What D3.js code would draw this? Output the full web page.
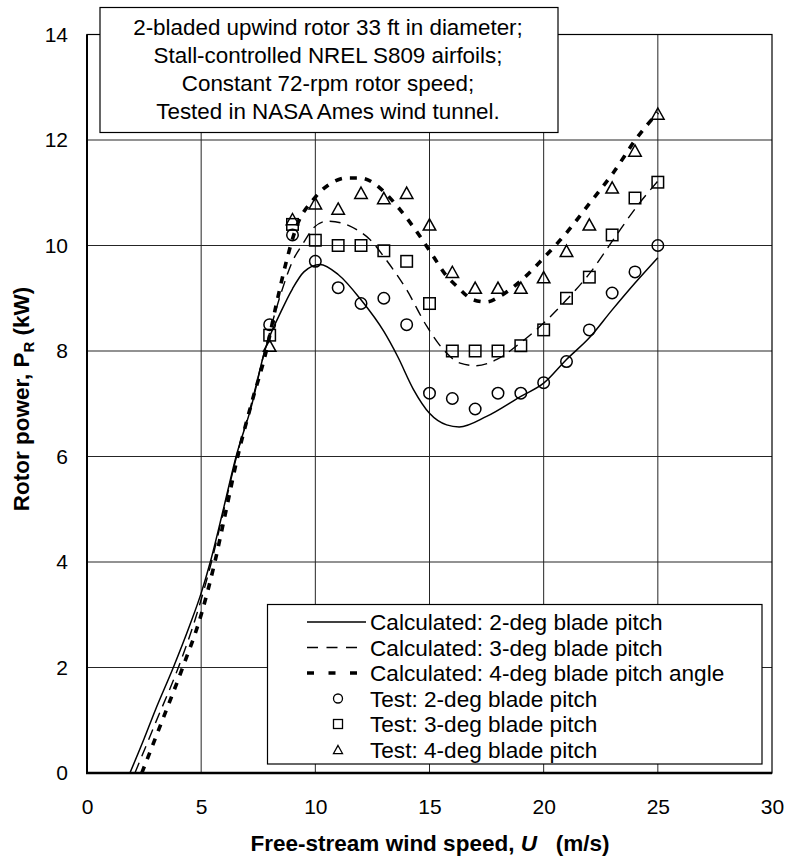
<!DOCTYPE html>
<html>
<head>
<meta charset="utf-8">
<script src="https://cdn.jsdelivr.net/npm/d3@7/dist/d3.min.js"></script>
<style>
  html, body { margin: 0; padding: 0; background: #fff; }
  svg { display: block; font-family: "Liberation Sans", Arial, sans-serif; }
</style>
</head>
<body>
<svg id="chart" width="785" height="857"></svg>
<script>
// ---------- data ----------
const xTicks = [0, 5, 10, 15, 20, 25, 30];
const yTicks = [0, 2, 4, 6, 8, 10, 12, 14];

// Test data (wind speed, m/s)
const testX = [8, 9, 10, 11, 12, 13, 14, 15, 16, 17, 18, 19, 20, 21, 22, 23, 24, 25];
const test2 = [8.5, 10.2, 9.7, 9.2, 8.9, 9.0, 8.5, 7.2, 7.1, 6.9, 7.2, 7.2, 7.4, 7.8, 8.4, 9.1, 9.5, 10.0];
const test3 = [8.3, 10.4, 10.1, 10.0, 10.0, 9.9, 9.7, 8.9, 8.0, 8.0, 8.0, 8.1, 8.4, 9.0, 9.4, 10.2, 10.9, 11.2];
const test4 = [8.1, 10.5, 10.8, 10.7, 11.0, 10.9, 11.0, 10.4, 9.5, 9.2, 9.2, 9.2, 9.4, 9.9, 10.4, 11.1, 11.8, 12.5];

// Calculated curves
const calc2X = [1.88, 2.5, 3.0, 3.78, 4.5, 5.0, 5.4, 6.0, 6.53, 7.2, 7.8, 8.5, 9.0, 9.5, 10.2, 11.0, 12.0, 13.0, 13.6, 14.3, 15.0, 15.75, 16.3, 17.5, 19.0, 20.0, 21.0, 22.0, 23.0, 24.0, 25.0];
const calc2Y = [0, 0.65, 1.2, 2.0, 2.8, 3.41, 4.0, 5.05, 6.0, 6.95, 8.03, 8.75, 9.18, 9.5, 9.64, 9.45, 8.97, 8.37, 7.9, 7.27, 6.82, 6.6, 6.56, 6.76, 7.14, 7.39, 7.84, 8.25, 8.78, 9.29, 9.77];

const calc3X = [2.1, 3.0, 4.0, 4.8, 5.45, 6.0, 6.55, 7.2, 7.8, 8.5, 9.0, 9.48, 9.91, 10.5, 11.2, 11.81, 12.4, 13.1, 14.0, 14.88, 15.6, 16.34, 17.05, 17.95, 18.97, 20.0, 21.0, 22.03, 23.05, 24.08, 25.0];
const calc3Y = [0, 0.95, 2.0, 3.0, 4.0, 5.0, 6.0, 7.0, 8.03, 9.1, 9.7, 10.05, 10.33, 10.46, 10.42, 10.3, 10.11, 9.73, 9.16, 8.47, 8.03, 7.77, 7.72, 7.84, 8.15, 8.53, 8.97, 9.48, 10.11, 10.74, 11.22];

const calc4X = [2.4, 3.3, 4.19, 5.0, 5.6, 6.1, 6.6, 7.2, 7.85, 8.3, 8.75, 9.18, 9.91, 10.86, 11.38, 11.96, 12.5, 13.05, 13.71, 14.59, 15.17, 15.75, 16.19, 16.92, 17.5, 18.09, 18.97, 19.99, 21.0, 22.03, 23.05, 24.08, 25.0];
const calc4Y = [0, 1.0, 2.0, 3.0, 4.0, 5.0, 6.0, 7.0, 8.0, 8.9, 9.73, 10.36, 10.87, 11.22, 11.28, 11.28, 11.2, 11.0, 10.68, 10.17, 9.79, 9.42, 9.23, 8.97, 8.93, 9.04, 9.32, 9.76, 10.24, 10.81, 11.38, 12.04, 12.52];

const noteLines = [
  "2-bladed upwind rotor 33 ft in diameter;",
  "Stall-controlled NREL S809 airfoils;",
  "Constant 72-rpm rotor speed;",
  "Tested in NASA Ames wind tunnel."
];
const legendLabels = [
  "Calculated: 2-deg blade pitch",
  "Calculated: 3-deg blade pitch",
  "Calculated: 4-deg blade pitch angle",
  "Test: 2-deg blade pitch",
  "Test: 3-deg blade pitch",
  "Test: 4-deg blade pitch"
];

// ---------- layout ----------
const L = 87, R = 772, T = 34.5, B = 773;
const svg = d3.select("#chart");
const x = d3.scaleLinear().domain([0, 30]).range([L, R]);
const y = d3.scaleLinear().domain([0, 14]).range([B, T]);

// gridlines
const grid = svg.append("g").attr("stroke", "#000").attr("stroke-width", 1).attr("opacity", 0.85);
grid.selectAll("line.v").data(xTicks.slice(1, -1)).join("line")
  .attr("x1", d => x(d)).attr("x2", d => x(d)).attr("y1", T).attr("y2", B);
grid.selectAll("line.h").data(yTicks.slice(1, -1)).join("line")
  .attr("x1", L).attr("x2", R).attr("y1", d => y(d)).attr("y2", d => y(d));

// plot border
svg.append("rect").attr("x", L).attr("y", T).attr("width", R - L).attr("height", B - T)
  .attr("fill", "none").attr("stroke", "#000").attr("stroke-width", 1.2);
// heavier left / bottom axes
svg.append("line").attr("x1", L).attr("x2", L).attr("y1", T).attr("y2", B + 1)
  .attr("stroke", "#000").attr("stroke-width", 2);
svg.append("line").attr("x1", L - 1).attr("x2", R).attr("y1", B).attr("y2", B)
  .attr("stroke", "#000").attr("stroke-width", 2.4);

// axes (labels only)
const xAxis = svg.append("g").attr("transform", `translate(0,${B})`)
  .call(d3.axisBottom(x).tickValues(xTicks).tickSize(0).tickPadding(26).tickFormat(d3.format("d")));
const yAxis = svg.append("g").attr("transform", `translate(${L},0)`)
  .call(d3.axisLeft(y).tickValues(yTicks).tickSize(0).tickPadding(19).tickFormat(d3.format("d")));
[xAxis, yAxis].forEach(g => {
  g.select(".domain").remove();
  g.selectAll("text").attr("font-family", "Liberation Sans, Arial, sans-serif")
    .attr("font-size", 21).attr("fill", "#000");
});

// axis titles
const xt = svg.append("text").attr("x", 430).attr("y", 851).attr("text-anchor", "middle")
  .attr("font-size", 22.5).attr("font-weight", "bold");
xt.append("tspan").text("Free-stream wind speed, ");
xt.append("tspan").attr("font-style", "italic").text("U");
xt.append("tspan").attr("xml:space", "preserve").text("\u00a0\u00a0 (m/s)");

const yt = svg.append("text").attr("transform", "translate(29,399) rotate(-90)")
  .attr("text-anchor", "middle").attr("font-size", 22.5).attr("font-weight", "bold");
yt.append("tspan").text("Rotor power, P");
yt.append("tspan").attr("font-size", 15).attr("dy", 5).text("R");
yt.append("tspan").attr("dy", -5).text(" (kW)");

// curves
const line = d3.line().x(d => x(d[0])).y(d => y(d[1])).curve(d3.curveMonotoneX);
const curves = [
  { xs: calc2X, ys: calc2Y, w: 1.5, dash: null },
  { xs: calc3X, ys: calc3Y, w: 1.4, dash: "11,7" },
  { xs: calc4X, ys: calc4Y, w: 3.6, dash: "7,8" }
];
curves.forEach(c => {
  svg.append("path").datum(c.xs.map((v, i) => [v, c.ys[i]]))
    .attr("d", line).attr("fill", "none").attr("stroke", "#000")
    .attr("stroke-width", c.w).attr("stroke-dasharray", c.dash);
});

// markers
function marker(g, type, cx, cy, s) {
  if (type === "circle") {
    g.append("circle").attr("cx", cx).attr("cy", cy).attr("r", s / 2);
  } else if (type === "square") {
    g.append("rect").attr("x", cx - s / 2).attr("y", cy - s / 2).attr("width", s).attr("height", s);
  } else {
    const h = s * 0.9;
    g.append("path").attr("d", `M${cx},${cy - h / 2}L${cx + s / 2},${cy + h / 2}L${cx - s / 2},${cy + h / 2}Z`);
  }
}
const mg = svg.append("g").attr("fill", "none").attr("stroke", "#000").attr("stroke-width", 1.5);
[[test2, "circle", 11.5], [test3, "square", 11.5], [test4, "triangle", 12.5]].forEach(([vals, t, s]) => {
  vals.forEach((v, i) => marker(mg, t, x(testX[i]), y(v), s));
});

// note box
svg.append("rect").attr("x", 100).attr("y", 7.5).attr("width", 458).attr("height", 125)
  .attr("fill", "#fff").attr("stroke", "#000").attr("stroke-width", 1.2);
svg.append("g").selectAll("text").data(noteLines).join("text")
  .attr("x", 328).attr("y", (d, i) => 34.5 + i * 28).attr("text-anchor", "middle")
  .attr("font-size", 22.4).text(d => d);

// legend
svg.append("rect").attr("x", 267.5).attr("y", 604.5).attr("width", 494.5).attr("height", 159.5)
  .attr("fill", "#fff").attr("stroke", "#000").attr("stroke-width", 1.2);
const lg = svg.append("g");
legendLabels.forEach((lab, i) => {
  const by = 630 + i * 25.5;
  const cy = by - 8;
  lg.append("text").attr("x", 370).attr("y", by).attr("font-size", 22.6).text(lab);
  if (i < 3) {
    const c = curves[i];
    lg.append("line").attr("x1", 307).attr("x2", i === 0 ? 366 : 358).attr("y1", cy).attr("y2", cy)
      .attr("stroke", "#000").attr("stroke-width", c.w)
      .attr("stroke-dasharray", i === 1 ? "11,8.5" : (i === 2 ? "7,14.5" : null));
  } else {
    const g = lg.append("g").attr("fill", "none").attr("stroke", "#000").attr("stroke-width", 1.3);
    marker(g, ["circle", "square", "triangle"][i - 3], 338, cy, 9);
  }
});
</script>
</body>
</html>
